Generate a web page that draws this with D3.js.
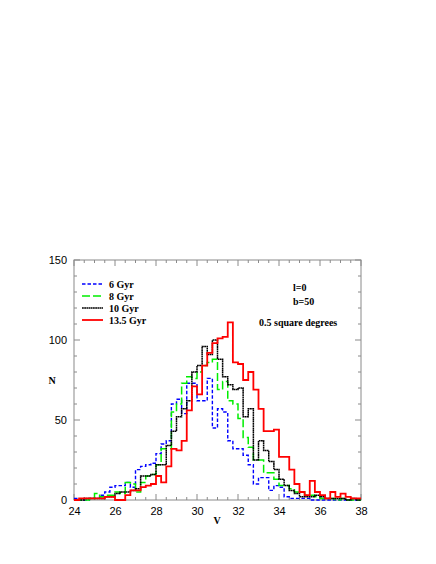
<!DOCTYPE html>
<html><head><meta charset="utf-8">
<script src="https://cdn.jsdelivr.net/npm/d3@7"></script>
<style>body{margin:0;background:#fff}svg{display:block}</style>
</head><body>
<svg id="c" width="436" height="564"></svg>
<script>
const binStart = 24, binWidth = 0.25;
const seriesNames = ["6 Gyr", "8 Gyr", "10 Gyr", "13.5 Gyr"];
const gyr6  = [1,0,0,1,1,3,5,8,9,9,11,8,19,21,22,23,29,35,37,60,63,54,73,73,62,62,76,45,57,55,37,32,32,28,22,10,14,14,6,9,8,2,1,1,1,1,0,0,0,0,0,0,0,0,0,0];
const gyr8  = [0,0,0,1,4,2,3,3,5,4,11,10,5,11,15,16,22,32,32,55,60,73,77,76,80,84,86,88,69,74,62,60,51,39,33,25,25,17,17,13,9,9,7,5,5,3,3,2,1,1,1,0,1,0,0,0];
const gyr10 = [0,0,1,1,1,1,2,2,4,5,5,6,7,15,15,16,22,22,34,43,52,57,62,80,84,96,91,100,88,77,72,69,70,52,57,25,37,31,24,19,13,9,6,4,2,2,2,3,2,1,1,1,1,0,1,0];
const gyr135= [0,1,1,1,1,1,2,2,0,0,3,6,6,8,9,10,15,11,21,32,31,37,56,71,66,84,92,98,101,102,111,86,85,75,80,69,57,43,43,44,27,27,19,10,5,3,12,5,3,1,5,2,4,2,1,1];
const xTicks = [24,26,28,30,32,34,36,38];
const yTicks = [0,50,100,150];
const annotations = ["l=0", "b=50", "0.5 square degrees"];

const svg = d3.select("#c");
const L=74, R=361, T=260, B=500;
const x = d3.scaleLinear().domain([24,38]).range([L,R]);
const y = d3.scaleLinear().domain([0,150]).range([B,T]);
const axisCol = "#8a8a8a";

svg.append("rect").attr("x",L).attr("y",T).attr("width",R-L).attr("height",B-T)
  .attr("fill","none").attr("stroke",axisCol).attr("stroke-width",1);

const xMinor = d3.range(24,38.001,0.5);
const yMinor = d3.range(0,150.001,10);
const tk = svg.append("g").attr("stroke",axisCol).attr("stroke-width",1);
xMinor.forEach(v=>{
  const len = (Math.abs(v%2)<1e-6)?6:3;
  tk.append("line").attr("x1",x(v)).attr("x2",x(v)).attr("y1",B).attr("y2",B-len);
  tk.append("line").attr("x1",x(v)).attr("x2",x(v)).attr("y1",T).attr("y2",T+len);
});
yMinor.forEach(v=>{
  const len = (Math.abs(v%50)<1e-6)?6:3;
  tk.append("line").attr("x1",L).attr("x2",L+len).attr("y1",y(v)).attr("y2",y(v));
  tk.append("line").attr("x1",R).attr("x2",R-len).attr("y1",y(v)).attr("y2",y(v));
});

const xAxis = svg.append("g").attr("transform",`translate(0,${B})`)
  .call(d3.axisBottom(x).tickValues(xTicks).tickSize(0).tickPadding(7).tickFormat(d3.format("d")));
const yAxis = svg.append("g").attr("transform",`translate(${L},0)`)
  .call(d3.axisLeft(y).tickValues(yTicks).tickSize(0).tickPadding(7).tickFormat(d3.format("d")));
[xAxis,yAxis].forEach(g=>{
  g.select(".domain").remove();
  g.selectAll("text").attr("font-family","'Liberation Sans', Arial, sans-serif").attr("font-size",11).attr("fill","#000");
});

svg.append("text").attr("x",217).attr("y",524).attr("text-anchor","middle")
  .attr("font-family","'Liberation Serif', 'Times New Roman', serif").attr("font-weight","bold").attr("font-size",10).text("V");
svg.append("text").attr("x",52).attr("y",384).attr("text-anchor","middle")
  .attr("font-family","'Liberation Serif', 'Times New Roman', serif").attr("font-weight","bold").attr("font-size",10).text("N");

const styles = [
  {data:gyr6,  color:"#0000ff", dash:"3.5,2", w:1.4},
  {data:gyr8,  color:"#00ee00", dash:"8,3", w:1.5},
  {data:gyr10, color:"#000000", dash:"1.8,0.4", w:1.5},
  {data:gyr135,color:"#ff0000", dash:null, w:1.8}
];
const line = d3.line().x(d=>x(d[0])).y(d=>y(d[1])).curve(d3.curveStepAfter);
styles.forEach(s=>{
  const pts = s.data.map((v,i)=>[binStart+i*binWidth, v]);
  pts.push([binStart+s.data.length*binWidth, s.data[s.data.length-1]]);
  const p = svg.append("path").attr("d",line(pts)).attr("fill","none")
    .attr("stroke",s.color).attr("stroke-width",s.w).attr("stroke-linejoin","miter");
  if(s.dash) p.attr("stroke-dasharray",s.dash);
});

const lg = svg.append("g");
seriesNames.forEach((n,i)=>{
  const yy = 284 + i*12;
  const s = styles[i];
  const l = lg.append("line").attr("x1",82).attr("x2",103).attr("y1",yy).attr("y2",yy)
    .attr("stroke",s.color).attr("stroke-width",s.w);
  if(s.dash) l.attr("stroke-dasharray",s.dash);
  lg.append("text").attr("x",109).attr("y",yy+3.5)
    .attr("font-family","'Liberation Serif', 'Times New Roman', serif").attr("font-weight","bold").attr("font-size",10).text(n);
});

const an = [[293,291],[293,305],[259,326]];
annotations.forEach((t,i)=>{
  svg.append("text").attr("x",an[i][0]).attr("y",an[i][1])
    .attr("font-family","'Liberation Serif', 'Times New Roman', serif").attr("font-weight","bold").attr("font-size",10).text(t);
});
</script>
</body></html>
